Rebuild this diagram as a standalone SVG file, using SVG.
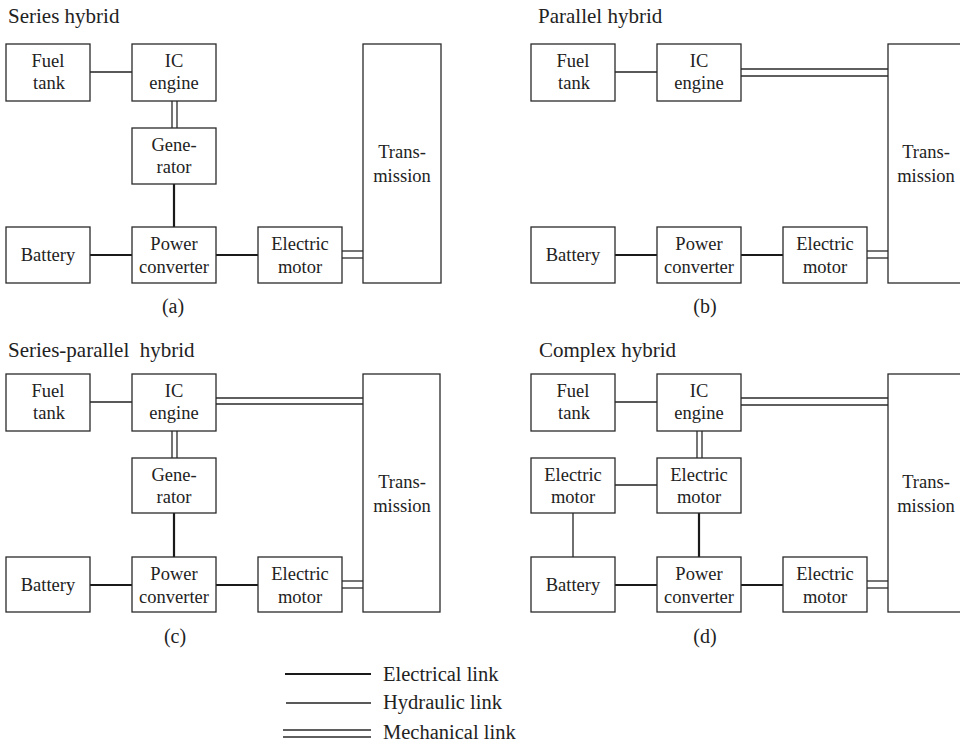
<svg xmlns="http://www.w3.org/2000/svg" width="960" height="743" viewBox="0 0 960 743" font-family="'Liberation Serif', 'DejaVu Serif', 'Times New Roman', serif">
<style>
.box{fill:#fff;stroke:#2a2a2a;stroke-width:1.3}
.t{font-family:'Liberation Serif','DejaVu Serif','Times New Roman',serif;font-size:18.5px;fill:#222;text-anchor:middle}
.title{font-family:'Liberation Serif','DejaVu Serif','Times New Roman',serif;font-size:21px;fill:#222;white-space:pre}
.lab{font-family:'Liberation Serif','DejaVu Serif','Times New Roman',serif;font-size:20px;fill:#222;text-anchor:middle}
.leg{font-family:'Liberation Serif','DejaVu Serif','Times New Roman',serif;font-size:20.5px;fill:#222}
.el{stroke:#1a1a1a;stroke-width:2.2;fill:none}
.hy{stroke:#222;stroke-width:1.3;fill:none}
.me{stroke:#2a2a2a;stroke-width:1.3;fill:none}
</style>
<rect width="960" height="743" fill="#fff"/>

<!-- Titles and labels -->
<text class="title" x="8" y="23">Series hybrid</text>
<text class="title" x="538" y="23">Parallel hybrid</text>
<text class="title" x="8" y="357" xml:space="preserve">Series-parallel  hybrid</text>
<text class="title" x="539" y="357">Complex hybrid</text>
<text class="lab" x="173" y="313">(a)</text>
<text class="lab" x="705" y="313">(b)</text>
<text class="lab" x="175" y="643">(c)</text>
<text class="lab" x="705" y="643">(d)</text>

<!-- Connectors -->
<g id="connectors">
  <!-- (a) -->
  <line class="hy" x1="90" y1="72" x2="132" y2="72"/>
  <line class="me" x1="172" y1="101" x2="172" y2="128"/>
  <line class="me" x1="177" y1="101" x2="177" y2="128"/>
  <line class="el" x1="174" y1="184" x2="174" y2="227"/>
  <line class="el" x1="90" y1="255" x2="132" y2="255"/>
  <line class="el" x1="216" y1="255" x2="258" y2="255"/>
  <line class="me" x1="342" y1="251" x2="363" y2="251"/>
  <line class="me" x1="342" y1="258" x2="363" y2="258"/>
  <!-- (b) -->
  <line class="hy" x1="615" y1="72" x2="657" y2="72"/>
  <line class="me" x1="741" y1="69" x2="888" y2="69"/>
  <line class="me" x1="741" y1="76" x2="888" y2="76"/>
  <line class="el" x1="615" y1="255" x2="657" y2="255"/>
  <line class="el" x1="741" y1="255" x2="783" y2="255"/>
  <line class="me" x1="867" y1="251" x2="888" y2="251"/>
  <line class="me" x1="867" y1="258" x2="888" y2="258"/>
  <!-- (c) -->
  <line class="hy" x1="90" y1="402" x2="132" y2="402"/>
  <line class="me" x1="216" y1="398" x2="363" y2="398"/>
  <line class="me" x1="216" y1="404" x2="363" y2="404"/>
  <line class="me" x1="172" y1="431" x2="172" y2="458"/>
  <line class="me" x1="177" y1="431" x2="177" y2="458"/>
  <line class="el" x1="174" y1="513" x2="174" y2="557"/>
  <line class="el" x1="90" y1="585" x2="132" y2="585"/>
  <line class="el" x1="216" y1="585" x2="258" y2="585"/>
  <line class="me" x1="342" y1="581" x2="363" y2="581"/>
  <line class="me" x1="342" y1="588" x2="363" y2="588"/>
  <!-- (d) -->
  <line class="hy" x1="615" y1="402" x2="657" y2="402"/>
  <line class="me" x1="741" y1="398" x2="888" y2="398"/>
  <line class="me" x1="741" y1="405" x2="888" y2="405"/>
  <line class="me" x1="697" y1="431" x2="697" y2="458"/>
  <line class="me" x1="702" y1="431" x2="702" y2="458"/>
  <line class="hy" x1="615" y1="485" x2="657" y2="485"/>
  <line class="hy" x1="573" y1="513" x2="573" y2="557"/>
  <line class="el" x1="699" y1="513" x2="699" y2="557"/>
  <line class="el" x1="615" y1="585" x2="657" y2="585"/>
  <line class="el" x1="741" y1="585" x2="783" y2="585"/>
  <line class="me" x1="867" y1="581" x2="888" y2="581"/>
  <line class="me" x1="867" y1="588" x2="888" y2="588"/>
</g>

<!-- Panel (a) nodes -->
<g id="a-fuel"><rect class="box" x="6" y="44" width="84" height="57"/><text class="t" x="48" y="67">Fuel</text><text class="t" x="49" y="89">tank</text></g>
<g id="a-ice"><rect class="box" x="132" y="44" width="84" height="57"/><text class="t" x="174" y="67">IC</text><text class="t" x="174" y="89">engine</text></g>
<g id="a-gen"><rect class="box" x="132" y="128" width="84" height="56"/><text class="t" x="174" y="151">Gene-</text><text class="t" x="174" y="173">rator</text></g>
<g id="a-bat"><rect class="box" x="6" y="227" width="84" height="56"/><text class="t" x="48" y="261">Battery</text></g>
<g id="a-pc"><rect class="box" x="132" y="227" width="84" height="56"/><text class="t" x="174" y="250">Power</text><text class="t" x="174" y="273">converter</text></g>
<g id="a-em"><rect class="box" x="258" y="227" width="84" height="56"/><text class="t" x="300" y="250">Electric</text><text class="t" x="300" y="273">motor</text></g>
<g id="a-tr"><rect class="box" x="363" y="44" width="78" height="239"/><text class="t" x="402" y="158">Trans-</text><text class="t" x="402" y="182">mission</text></g>

<!-- Panel (b) nodes -->
<g id="b-fuel"><rect class="box" x="531" y="44" width="84" height="57"/><text class="t" x="573" y="67">Fuel</text><text class="t" x="574" y="89">tank</text></g>
<g id="b-ice"><rect class="box" x="657" y="44" width="84" height="57"/><text class="t" x="699" y="67">IC</text><text class="t" x="699" y="89">engine</text></g>
<g id="b-bat"><rect class="box" x="531" y="227" width="84" height="56"/><text class="t" x="573" y="261">Battery</text></g>
<g id="b-pc"><rect class="box" x="657" y="227" width="84" height="56"/><text class="t" x="699" y="250">Power</text><text class="t" x="699" y="273">converter</text></g>
<g id="b-em"><rect class="box" x="783" y="227" width="84" height="56"/><text class="t" x="825" y="250">Electric</text><text class="t" x="825" y="273">motor</text></g>
<g id="b-tr"><rect class="box" x="888" y="44" width="80" height="239"/><text class="t" x="926" y="158">Trans-</text><text class="t" x="926" y="182">mission</text></g>

<!-- Panel (c) nodes -->
<g id="c-fuel"><rect class="box" x="6" y="374" width="84" height="57"/><text class="t" x="48" y="397">Fuel</text><text class="t" x="49" y="419">tank</text></g>
<g id="c-ice"><rect class="box" x="132" y="374" width="84" height="57"/><text class="t" x="174" y="397">IC</text><text class="t" x="174" y="419">engine</text></g>
<g id="c-gen"><rect class="box" x="132" y="458" width="84" height="55"/><text class="t" x="174" y="481">Gene-</text><text class="t" x="174" y="503">rator</text></g>
<g id="c-bat"><rect class="box" x="6" y="557" width="84" height="55"/><text class="t" x="48" y="591">Battery</text></g>
<g id="c-pc"><rect class="box" x="132" y="557" width="84" height="55"/><text class="t" x="174" y="580">Power</text><text class="t" x="174" y="603">converter</text></g>
<g id="c-em"><rect class="box" x="258" y="557" width="84" height="55"/><text class="t" x="300" y="580">Electric</text><text class="t" x="300" y="603">motor</text></g>
<g id="c-tr"><rect class="box" x="363" y="374" width="77" height="238"/><text class="t" x="402" y="488">Trans-</text><text class="t" x="402" y="512">mission</text></g>

<!-- Panel (d) nodes -->
<g id="d-fuel"><rect class="box" x="531" y="374" width="84" height="57"/><text class="t" x="573" y="397">Fuel</text><text class="t" x="574" y="419">tank</text></g>
<g id="d-ice"><rect class="box" x="657" y="374" width="84" height="57"/><text class="t" x="699" y="397">IC</text><text class="t" x="699" y="419">engine</text></g>
<g id="d-em1"><rect class="box" x="531" y="458" width="84" height="55"/><text class="t" x="573" y="481">Electric</text><text class="t" x="573" y="503">motor</text></g>
<g id="d-em2"><rect class="box" x="657" y="458" width="84" height="55"/><text class="t" x="699" y="481">Electric</text><text class="t" x="699" y="503">motor</text></g>
<g id="d-bat"><rect class="box" x="531" y="557" width="84" height="55"/><text class="t" x="573" y="591">Battery</text></g>
<g id="d-pc"><rect class="box" x="657" y="557" width="84" height="55"/><text class="t" x="699" y="580">Power</text><text class="t" x="699" y="603">converter</text></g>
<g id="d-em3"><rect class="box" x="783" y="557" width="84" height="55"/><text class="t" x="825" y="580">Electric</text><text class="t" x="825" y="603">motor</text></g>
<g id="d-tr"><rect class="box" x="888" y="374" width="80" height="238"/><text class="t" x="926" y="488">Trans-</text><text class="t" x="926" y="512">mission</text></g>

<!-- Legend -->
<g id="legend">
  <line class="el" x1="285" y1="674" x2="371" y2="674"/>
  <text class="leg" x="383" y="681">Electrical link</text>
  <line class="hy" x1="286" y1="703" x2="371" y2="703"/>
  <text class="leg" x="383" y="709">Hydraulic link</text>
  <line class="me" x1="283" y1="730" x2="371" y2="730"/>
  <line class="me" x1="283" y1="737" x2="371" y2="737"/>
  <text class="leg" x="383" y="739">Mechanical link</text>
</g>
</svg>
